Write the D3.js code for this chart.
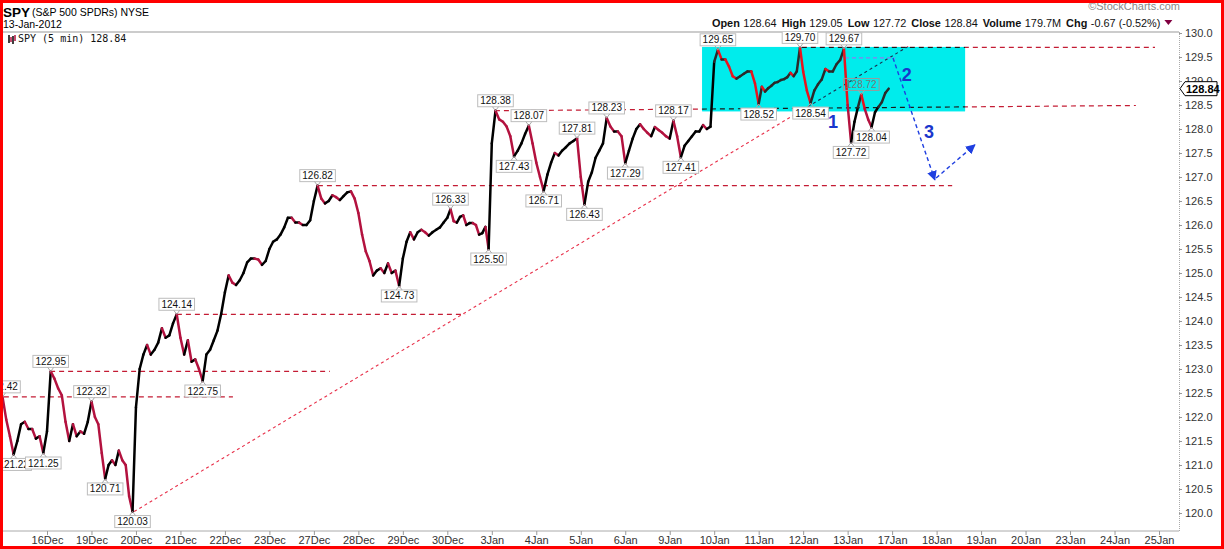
<!DOCTYPE html>
<html><head><meta charset="utf-8">
<script src="https://cdn.jsdelivr.net/npm/d3@7"></script>
<style>body{margin:0;background:#fff}svg{display:block}</style>
</head><body><svg id="c" width="1224" height="549"></svg>
<script>
// ---------- data ----------
const days = ['15Dec','16Dec','19Dec','20Dec','21Dec','22Dec','23Dec','27Dec','28Dec','29Dec','30Dec',
  '3Jan','4Jan','5Jan','6Jan','9Jan','10Jan','11Jan','12Jan','13Jan','17Jan','18Jan','19Jan','20Jan','23Jan','24Jan','25Jan'];
const sessionPrices = [
  [122.42,121.95,121.6,121.22,121.5,121.85,121.9,121.75,121.75,121.55,121.6,121.25],
  [121.7,122.95,122.8,122.6,122.45,121.9,121.5,121.85,121.6,121.7,121.65,121.9],
  [122.32,122.0,121.85,121.25,120.71,121.0,121.1,121.0,121.3,121.1,121.0,120.35,120.03],
  [122.2,123.0,123.3,123.5,123.3,123.4,123.55,123.85,123.65,123.7,123.95,124.14],
  [123.65,123.3,123.6,123.15,123.2,123.0,122.75,123.3,123.4,123.6,123.8,124.15],
  [124.6,124.95,124.8,124.75,124.85,125.0,125.22,125.3,125.3,125.28,125.17,125.25],
  [125.5,125.65,125.7,125.8,125.95,126.15,126.15,126.05,126.05,126.0,126.0,126.1],
  [126.5,126.82,126.55,126.45,126.5,126.62,126.58,126.52,126.6,126.68,126.7,126.55],
  [126.25,125.8,125.45,125.25,124.95,125.05,125.1,125.0,125.2,125.0,125.05,124.73],
  [125.3,125.65,125.85,125.7,125.85,125.9,125.85,125.78,125.85,125.9,125.95,126.05],
  [126.15,126.33,126.08,126.05,126.17,126.2,126.0,126.04,126.04,126.0,125.8,125.83,125.96,125.5],
  [127.7,128.38,128.2,128.15,128.05,127.85,127.43,127.55,127.7,127.9,128.07,127.7],
  [127.3,127.0,126.71,127.05,127.3,127.5,127.45,127.55,127.62,127.7,127.75,127.81],
  [127.0,126.43,126.9,127.1,127.4,127.55,127.7,128.23,128.05,127.95,127.95,127.85],
  [127.29,127.55,127.8,128.0,128.1,128.0,127.92,127.85,128.04,127.98,127.92,127.85],
  [127.8,128.17,127.85,127.41,127.65,127.75,127.85,127.95,127.95,128.08,128.0,128.05],
  [129.4,129.65,129.45,129.45,129.3,129.1,129.05,129.1,129.15,129.2,129.2,128.95],
  [128.52,128.88,128.78,128.85,128.9,128.96,128.98,129.02,129.04,129.08,129.17,129.1,129.2,129.7],
  [129.2,128.8,128.54,128.8,128.93,129.03,129.25,129.2,129.2,129.35,129.44,129.67],
  [128.5,127.72,128.15,128.45,128.72,128.42,128.2,128.04,128.35,128.46,128.56,128.75,128.84]
];
// annotated turning points: [session, sample, side]
const labelSession = [0,0,0,1,2,2,2,3,4,7,8,10,10,11,11,11,12,12,13,13,14,15,15,16,17,17,18,18,19,19,19];
const labelSample  = [0,3,11,1,0,4,12,11,6,1,11,1,13,1,6,10,2,11,1,7,0,1,3,1,0,13,2,11,1,4,7];
const labelSide    = ['h','l','l','h','h','l','l','h','l','h','l','h','l','h','l','h','l','h','l','h','l','h','l','h','l','h','l','h','l','h','l'];
const fadedLabel = 29;
// horizontal support / resistance levels (value, from session-pos, to session-pos)
const levelValue = [122.42,122.95,124.14,126.82,129.70];
const levelFrom  = [0.03,1.07,3.92,7.09,17.97];
const levelTo    = [5.18,7.36,10.40,21.35,25.91];
const slopedLevel = [[11.07,128.38],[25.48,128.49]];
const trendLine = [[2.96,120.03],[20.36,129.72]];
const boxRange = {from:15.73,to:21.64,hi:129.71,lo:128.37};
const targetLine = [[18.94,129.48],[20.07,129.48]];
const arrowDown = [[20.02,129.48],[20.96,126.94]];
const arrowUp = [[20.99,126.98],[21.86,127.67]];
const waveLabels = ['1','2','3'];
const wavePos = [[18.67,128.15],[20.33,129.12],[20.83,127.94]];
const yTicks = d3.range(120,130.001,0.5);
const headerNames = ['Open','High','Low','Close','Volume','Chg'];
const headerValues = ['128.64','129.05','127.72','128.84','179.7M','-0.67 (-0.52%)'];
const lastPrice = 128.84;

// ---------- scales ----------
const svg = d3.select('#c');
const PL=3, PR=1179, PT=32, PB=531;
const x = d3.scaleLinear().domain([0,26]).range([2.52,1159]);
const y = d3.scaleLinear().domain([120,130]).range([513,33]);
const FONT = '"Liberation Sans", Arial, sans-serif';

svg.append('rect').attr('width',1224).attr('height',549).attr('fill','#fff');
const defs = svg.append('defs');
defs.append('clipPath').attr('id','plotClip').append('rect')
  .attr('x',PL).attr('y',PT).attr('width',PR-PL).attr('height',PB-PT);
defs.append('clipPath').attr('id','boxClip').append('rect')
  .attr('x',x(boxRange.from)).attr('y',y(boxRange.hi))
  .attr('width',x(boxRange.to)-x(boxRange.from)).attr('height',y(boxRange.lo)-y(boxRange.hi));
defs.append('marker').attr('id','arr').attr('viewBox','0 0 10 10').attr('refX',9).attr('refY',5)
  .attr('markerWidth',7).attr('markerHeight',7).attr('orient','auto')
  .append('path').attr('d','M0,0 L10,5 L0,10 z').attr('fill','#1f3fe0');

// ---------- header ----------
svg.append('text').attr('x',3).attr('y',17).attr('font-family',FONT).attr('font-size',13.5).attr('font-weight','bold').text('SPY');
svg.append('text').attr('x',32).attr('y',16).attr('font-family',FONT).attr('font-size',10.5).text('(S&P 500 SPDRs) NYSE');
svg.append('text').attr('x',3).attr('y',28).attr('font-family',FONT).attr('font-size',10.5).text('13-Jan-2012');
svg.append('text').attr('x',1180).attr('y',10).attr('text-anchor','end').attr('font-family',FONT).attr('font-size',11).attr('fill','#888').text('©StockCharts.com');
const hdr = svg.append('text').attr('x',712).attr('y',27).attr('font-family',FONT).attr('font-size',10.9).attr('fill','#111');
headerNames.forEach((n,i)=>{
  hdr.append('tspan').attr('font-weight','bold').attr('dx', i?5:0).text(n);
  hdr.append('tspan').attr('dx',3.5).text(headerValues[i]);
});
const hb = hdr.node().getBBox();
svg.append('path').attr('d',`M${hb.x+hb.width+4},20 l8,0 l-4,5 z`).attr('fill','#800040');

// ---------- plot frame ----------
svg.append('line').attr('x1',PL).attr('x2',PR).attr('y1',PT).attr('y2',PT).attr('stroke','#999');
svg.append('line').attr('x1',PL).attr('x2',PR).attr('y1',PB).attr('y2',PB).attr('stroke','#aaa');

const plot = svg.append('g').attr('clip-path','url(#plotClip)');
// box
plot.append('rect').attr('x',x(boxRange.from)).attr('y',y(boxRange.hi))
  .attr('width',x(boxRange.to)-x(boxRange.from)).attr('height',y(boxRange.lo)-y(boxRange.hi))
  .attr('fill','#00ecec');

function drawLines(g, color, dash){
  levelValue.forEach((v,i)=>{
    g.append('line').attr('x1',x(levelFrom[i])).attr('x2',x(levelTo[i])).attr('y1',y(v)).attr('y2',y(v))
      .attr('stroke',color).attr('stroke-width',1.2).attr('stroke-dasharray',dash);
  });
  g.append('line').attr('x1',x(slopedLevel[0][0])).attr('y1',y(slopedLevel[0][1]))
    .attr('x2',x(slopedLevel[1][0])).attr('y2',y(slopedLevel[1][1]))
    .attr('stroke',color).attr('stroke-width',1.2).attr('stroke-dasharray',dash);
}
drawLines(plot,'#c41c34','5,4');
plot.append('line').attr('x1',x(trendLine[0][0])).attr('y1',y(trendLine[0][1]))
  .attr('x2',x(trendLine[1][0])).attr('y2',y(trendLine[1][1]))
  .attr('stroke','#e8304a').attr('stroke-width',1.1).attr('stroke-dasharray','3,3');
// black inside the box
const inBox = plot.append('g').attr('clip-path','url(#boxClip)');
inBox.append('rect').attr('x',0).attr('y',0).attr('width',1224).attr('height',549).attr('fill','#00ecec');
drawLines(inBox,'#1a1a1a','5,4');
inBox.append('line').attr('x1',x(trendLine[0][0])).attr('y1',y(trendLine[0][1]))
  .attr('x2',x(trendLine[1][0])).attr('y2',y(trendLine[1][1]))
  .attr('stroke','#1a3050').attr('stroke-width',1.1).attr('stroke-dasharray','3,3');
plot.append('line').attr('x1',x(targetLine[0][0])).attr('y1',y(targetLine[0][1]))
  .attr('x2',x(targetLine[1][0])).attr('y2',y(targetLine[1][1]))
  .attr('stroke','#8a7cf0').attr('stroke-width',1.2).attr('stroke-dasharray','4,3');

// ---------- price ----------
const pts = [];
sessionPrices.forEach((vals,d)=>vals.forEach((v,j)=>pts.push({t:d+j/vals.length, v})));
const inside = p => p.t>=boxRange.from && p.t<=boxRange.to && p.v>=boxRange.lo && p.v<=boxRange.hi;
const price = plot.append('g');
for(let k=1;k<pts.length;k++){
  const a=pts[k-1], b=pts[k], up=b.v>=a.v;
  const ib = inside(a) && inside(b);
  const col = ib ? (up?'#2a2a2a':'#e8141e') : (up?'#000':'#b3123f');
  price.append('line').attr('x1',x(a.t)).attr('y1',y(a.v)).attr('x2',x(b.t)).attr('y2',y(b.v))
    .attr('stroke',col).attr('stroke-width',2.5).attr('stroke-linecap','round');
}

// ---------- turning-point labels ----------
const lab = plot.append('g').attr('font-family',FONT).attr('font-size',10);
labelSession.forEach((s,i)=>{
  const vals = sessionPrices[s], j = labelSample[i], v = vals[j];
  const px = x(s + j/vals.length), py = y(v);
  const hi = labelSide[i]==='h';
  const faded = i===fadedLabel;
  const g = lab.append('g');
  const t = g.append('text').attr('x',px).attr('text-anchor','middle').attr('fill',faded?'#777':'#111').text(v.toFixed(2));
  const w = t.node().getComputedTextLength()+5, h=12;
  const by = hi ? py-4-h : py+4;
  t.attr('y', by+h-2.5);
  g.insert('rect','text').attr('x',px-w/2).attr('y',by).attr('width',w).attr('height',h)
    .attr('fill',faded?'none':'#fff').attr('stroke',faded?'#999':'#bdbdbd').attr('stroke-width',1);
  const ey = hi ? by+h : by;
  g.append('path').attr('d',`M${px-3},${ey} L${px},${py} L${px+3},${ey}`).attr('fill','none').attr('stroke','#aaa');
});

// ---------- wave arrows ----------
[arrowDown,arrowUp].forEach(a=>{
  plot.append('line').attr('x1',x(a[0][0])).attr('y1',y(a[0][1])).attr('x2',x(a[1][0])).attr('y2',y(a[1][1]))
    .attr('stroke','#1f3fe0').attr('stroke-width',1.4).attr('stroke-dasharray','4,3').attr('marker-end','url(#arr)');
});
waveLabels.forEach((s,i)=>{
  plot.append('text').attr('x',x(wavePos[i][0])).attr('y',y(wavePos[i][1])).attr('text-anchor','middle')
    .attr('dominant-baseline','central').attr('font-family',FONT).attr('font-weight','bold').attr('font-size',18)
    .attr('fill','#1a36cc').text(s);
});

// legend line inside plot
const lg = svg.append('g');
[[9,35,43,'#000'],[11,37,42,'#b3123f'],[13,36,44,'#000'],[15,35,41,'#b3123f']].forEach(d=>{
  lg.append('line').attr('x1',d[0]).attr('x2',d[0]).attr('y1',d[1]).attr('y2',d[2]).attr('stroke',d[3]).attr('stroke-width',1.5);
});
svg.append('text').attr('x',18).attr('y',42).attr('font-family','"DejaVu Sans Mono", monospace').attr('font-size',10).attr('fill','#111')
  .text('SPY (5 min) ' + lastPrice.toFixed(2));

// ---------- axes ----------
const ya = svg.append('g').attr('transform',`translate(${PR},0)`)
  .call(d3.axisRight(y).tickValues(yTicks).tickFormat(d3.format('.1f')).tickSize(3).tickPadding(3));
ya.select('.domain').remove();
ya.selectAll('line').attr('stroke','#999');
ya.selectAll('text').attr('font-family',FONT).attr('font-size',11).attr('fill','#333');
svg.append('line').attr('x1',PR+0.5).attr('x2',PR+0.5).attr('y1',PT).attr('y2',PB)
  .attr('stroke','#aaa').attr('stroke-dasharray','1,1');

const xa = svg.append('g').attr('transform',`translate(0,${PB})`)
  .call(d3.axisBottom(x).tickValues(d3.range(1,days.length)).tickFormat(i=>days[i]).tickSize(4).tickPadding(1));
xa.select('.domain').remove();
xa.selectAll('line').attr('stroke','#999');
xa.selectAll('text').attr('font-family',FONT).attr('font-size',11).attr('fill','#333');

// last price tag
const lp = y(lastPrice);
svg.append('path').attr('d',`M${PR+1},${lp} L${PR+6},${lp-7} L${PR+38},${lp-7} L${PR+38},${lp+7} L${PR+6},${lp+7} Z`)
  .attr('fill','#fff').attr('stroke','#000');
svg.append('text').attr('x',PR+7).attr('y',lp+4).attr('font-family',FONT).attr('font-size',11).attr('font-weight','bold')
  .text(lastPrice.toFixed(2));

// outer red border
svg.append('rect').attr('x',1.5).attr('y',1.5).attr('width',1221).attr('height',546)
  .attr('fill','none').attr('stroke','#ff0000').attr('stroke-width',3);
</script></body></html>
